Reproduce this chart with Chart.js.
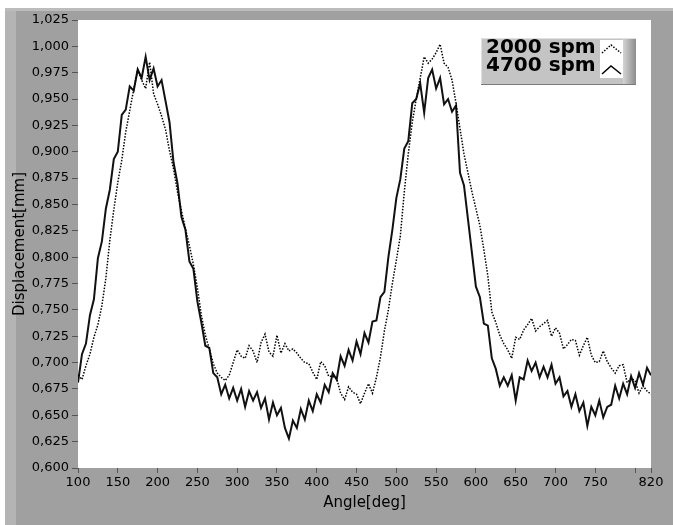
<!DOCTYPE html>
<html>
<head>
<meta charset="utf-8">
<script src="https://cdn.jsdelivr.net/npm/chart.js@4"></script>
<style>
  html, body { margin: 0; padding: 0; background: #ffffff; }
  #wrap { position: relative; width: 673px; height: 525px; }
</style>
</head>
<body>
<div id="wrap"><canvas id="myChart" width="673" height="525"></canvas></div>
<script>
// Angle values [deg]
const angles = [
  100, 105, 110, 115, 120, 125, 130, 135, 140, 145, 150, 155, 160, 165, 170, 175, 180, 185, 190, 195,
  200, 205, 210, 215, 220, 225, 230, 235, 240, 245, 250, 255, 260, 265, 270, 275, 280, 285, 290, 295,
  300, 305, 310, 315, 320, 325, 330, 335, 340, 345, 350, 355, 360, 365, 370, 375, 380, 385, 390, 395,
  400, 405, 410, 415, 420, 425, 430, 435, 440, 445, 450, 455, 460, 465, 470, 475, 480, 485, 490, 495,
  500, 505, 510, 515, 520, 525, 530, 535, 540, 545, 550, 555, 560, 565, 570, 575, 580, 585, 590, 595,
  600, 605, 610, 615, 620, 625, 630, 635, 640, 645, 650, 655, 660, 665, 670, 675, 680, 685, 690, 695,
  700, 705, 710, 715, 720, 725, 730, 735, 740, 745, 750, 755, 760, 765, 770, 775, 780, 785, 790, 795,
  800, 805, 810, 815, 820
];

// 2000 spm (dotted) displacement [mm]
const disp2000 = [
  0.688, 0.684, 0.697, 0.708, 0.724, 0.736, 0.754, 0.780, 0.816, 0.845, 0.871, 0.892, 0.919, 0.939, 0.959, 0.978, 0.968, 0.960, 0.985, 0.955,
  0.945, 0.934, 0.921, 0.901, 0.884, 0.862, 0.844, 0.827, 0.811, 0.793, 0.771, 0.745, 0.726, 0.713, 0.699, 0.690, 0.686, 0.683, 0.688, 0.700,
  0.712, 0.706, 0.704, 0.716, 0.711, 0.700, 0.719, 0.727, 0.710, 0.706, 0.726, 0.709, 0.718, 0.711, 0.713, 0.709, 0.704, 0.700, 0.699, 0.691,
  0.684, 0.701, 0.697, 0.687, 0.687, 0.685, 0.671, 0.665, 0.677, 0.672, 0.670, 0.661, 0.671, 0.680, 0.671, 0.686, 0.705, 0.730, 0.750, 0.775,
  0.797, 0.820, 0.862, 0.898, 0.928, 0.950, 0.970, 0.990, 0.984, 0.988, 0.994, 1.002, 0.984, 0.980, 0.968, 0.946, 0.922, 0.898, 0.880, 0.862,
  0.846, 0.830, 0.807, 0.782, 0.748, 0.738, 0.726, 0.718, 0.712, 0.704, 0.724, 0.722, 0.731, 0.736, 0.742, 0.730, 0.734, 0.737, 0.740, 0.725,
  0.733, 0.728, 0.713, 0.717, 0.722, 0.721, 0.707, 0.716, 0.724, 0.707, 0.700, 0.701, 0.711, 0.701, 0.695, 0.690, 0.697, 0.698, 0.681, 0.685,
  0.683, 0.671, 0.678, 0.673, 0.670
];

// 4700 spm (solid) displacement [mm]
const disp4700 = [
  0.681, 0.708, 0.718, 0.745, 0.760, 0.799, 0.815, 0.846, 0.864, 0.893, 0.900, 0.935, 0.940, 0.962, 0.958, 0.978, 0.970, 0.990, 0.968, 0.979,
  0.962, 0.968, 0.948, 0.928, 0.890, 0.870, 0.838, 0.826, 0.796, 0.789, 0.758, 0.738, 0.716, 0.714, 0.690, 0.686, 0.670, 0.679, 0.666, 0.676,
  0.664, 0.675, 0.658, 0.673, 0.664, 0.672, 0.657, 0.666, 0.646, 0.662, 0.650, 0.657, 0.638, 0.628, 0.645, 0.638, 0.656, 0.646, 0.664, 0.654,
  0.670, 0.662, 0.679, 0.672, 0.690, 0.684, 0.706, 0.697, 0.712, 0.702, 0.720, 0.708, 0.728, 0.719, 0.739, 0.740, 0.762, 0.767, 0.800, 0.826,
  0.856, 0.874, 0.903, 0.910, 0.946, 0.950, 0.965, 0.937, 0.970, 0.978, 0.960, 0.970, 0.945, 0.950, 0.938, 0.944, 0.880, 0.868, 0.836, 0.804,
  0.772, 0.762, 0.737, 0.735, 0.704, 0.694, 0.678, 0.686, 0.678, 0.688, 0.664, 0.686, 0.684, 0.702, 0.692, 0.700, 0.686, 0.696, 0.686, 0.698,
  0.680, 0.686, 0.668, 0.673, 0.658, 0.670, 0.654, 0.662, 0.640, 0.658, 0.650, 0.664, 0.648, 0.658, 0.660, 0.678, 0.666, 0.680, 0.670, 0.687,
  0.676, 0.690, 0.679, 0.695, 0.688
];

// axis ticks
const xTicks = [100, 150, 200, 250, 300, 350, 400, 450, 500, 550, 600, 650, 700, 750, 800, 820];
const xTickLabels = ["100", "150", "200", "250", "300", "350", "400", "450", "500", "550", "600", "650", "700", "750", "", "820"];
const yTicks = [0.600, 0.625, 0.650, 0.675, 0.700, 0.725, 0.750, 0.775, 0.800, 0.825, 0.850, 0.875, 0.900, 0.925, 0.950, 0.975, 1.000, 1.025];
const yTickLabels = ["0,600", "0,625", "0,650", "0,675", "0,700", "0,725", "0,750", "0,775", "0,800", "0,825", "0,850", "0,875", "0,900", "0,925", "0,950", "0,975", "1,000", "1,025"];

const seriesNames = ["2000 spm", "4700 spm"];

// gray LabVIEW style panel + white plot area
const panelPlugin = {
  id: "panel",
  beforeDraw(chart) {
    const c = chart.ctx;
    const a = chart.chartArea;
    c.save();
    c.fillStyle = "#ffffff";
    c.fillRect(0, 0, chart.width, chart.height);
    c.fillStyle = "#a0a0a0";
    c.fillRect(5, 8, chart.width - 5, chart.height - 8);
    c.fillStyle = "#b4b4b4";
    c.fillRect(5, 8, 11, chart.height - 8);
    c.fillStyle = "#bcbcbc";
    c.fillRect(5, 8, chart.width - 5, 3);
    c.fillStyle = "#ffffff";
    c.fillRect(a.left, a.top, a.right - a.left, a.bottom - a.top);
    c.restore();
  }
};

// legend box in the top right corner
const legendPlugin = {
  id: "plotLegend",
  afterDraw(chart) {
    const c = chart.ctx;
    const x = 481, y = 38, w = 155, h = 47;
    c.save();
    c.fillStyle = "#c4c4c4";
    c.fillRect(x, y, w, h);
    const g = c.createLinearGradient(623, 0, 636, 0);
    g.addColorStop(0, "#d4d4d4");
    g.addColorStop(1, "#8c8c8c");
    c.fillStyle = g;
    c.fillRect(623, y, 13, h);
    c.strokeStyle = "#e0e0e0";
    c.lineWidth = 1;
    c.beginPath();
    c.moveTo(x + 0.5, y + h);
    c.lineTo(x + 0.5, y + 0.5);
    c.lineTo(x + w, y + 0.5);
    c.stroke();
    c.strokeStyle = "#7a7a7a";
    c.beginPath();
    c.moveTo(x, y + h - 0.5);
    c.lineTo(x + w, y + h - 0.5);
    c.stroke();

    c.fillStyle = "#000000";
    c.font = "bold 20px 'DejaVu Sans'";
    c.textBaseline = "middle";
    c.textAlign = "left";
    c.fillText(seriesNames[0], 486, 48);
    c.fillText(seriesNames[1], 486, 66);

    // swatch
    c.fillStyle = "#ffffff";
    c.fillRect(600, 40, 23, 38);
    c.strokeStyle = "#000000";
    c.lineWidth = 1.5;
    c.setLineDash([1.5, 1.5]);
    c.beginPath();
    c.moveTo(602, 53);
    c.lineTo(611, 45);
    c.lineTo(621, 53);
    c.stroke();
    c.setLineDash([]);
    c.beginPath();
    c.moveTo(602, 74);
    c.lineTo(611, 66);
    c.lineTo(621, 74);
    c.stroke();
    c.restore();
  }
};

const ctx = document.getElementById("myChart");

new Chart(ctx, {
  type: "line",
  data: {
    datasets: [
      {
        label: seriesNames[0],
        data: angles.map((a, i) => ({ x: a, y: disp2000[i] })),
        borderColor: "#000000",
        borderWidth: 1.5,
        borderDash: [1.5, 1.5],
        pointRadius: 0,
        tension: 0,
        fill: false,
      },
      {
        label: seriesNames[1],
        data: angles.map((a, i) => ({ x: a, y: disp4700[i] })),
        borderColor: "#111111",
        borderWidth: 2,
        pointRadius: 0,
        tension: 0,
        fill: false,
      },
    ],
  },
  options: {
    responsive: false,
    animation: false,
    layout: { padding: { left: 0, top: 20, right: 22, bottom: 0 } },
    plugins: {
      legend: { display: false },
      tooltip: { enabled: false },
    },
    scales: {
      x: {
        type: "linear",
        min: 100,
        max: 820,
        afterFit(scale) { scale.height = 57; },
        afterBuildTicks(scale) { scale.ticks = xTicks.map((v) => ({ value: v })); },
        ticks: {
          autoSkip: false,
          maxRotation: 0,
          color: "#000000",
          padding: 2,
          font: { family: "'DejaVu Sans'", size: 13 },
          callback: (value) => xTickLabels[xTicks.indexOf(value)],
        },
        grid: { drawOnChartArea: false, tickLength: 5, color: "#555555" },
        border: { display: false },
        title: {
          display: true,
          text: "Angle[deg]",
          color: "#000000",
          font: { family: "'DejaVu Sans'", size: 15 },
          padding: { top: 0, bottom: 13 },
        },
      },
      y: {
        type: "linear",
        min: 0.6,
        max: 1.025,
        afterFit(scale) { scale.width = 78; },
        afterBuildTicks(scale) { scale.ticks = yTicks.map((v) => ({ value: v })); },
        ticks: {
          autoSkip: false,
          color: "#000000",
          padding: 3,
          font: { family: "'DejaVu Sans'", size: 13 },
          callback: (value) => yTickLabels[yTicks.indexOf(value)],
        },
        grid: { drawOnChartArea: false, tickLength: 6, color: "#555555" },
        border: { display: false },
        title: {
          display: true,
          text: "Displacement[mm]",
          color: "#000000",
          font: { family: "'DejaVu Sans'", size: 15 },
          padding: { top: 11, bottom: 0 },
        },
      },
    },
  },
  plugins: [panelPlugin, legendPlugin],
});
</script>
</body>
</html>
